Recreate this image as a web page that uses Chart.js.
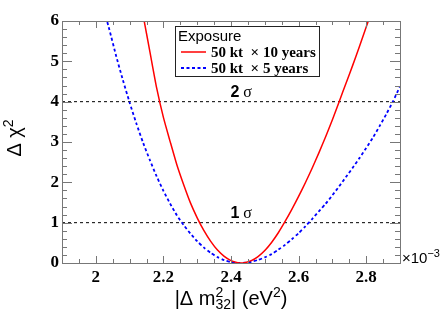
<!DOCTYPE html>
<html>
<head>
<meta charset="UTF-8">
<script src="https://cdn.jsdelivr.net/npm/chart.js"></script>
<style>
  body { margin: 0; background: #fff; }
  canvas { display: block; }
</style>
</head>
<body>
<canvas id="chi2" width="441" height="315"></canvas>
<script>
// values (x in units of 1e-3 eV^2)
const redX = [2.12, 2.14, 2.16, 2.18, 2.20, 2.22, 2.24, 2.26, 2.28, 2.30, 2.32, 2.34, 2.36, 2.38, 2.40, 2.42, 2.43,
  2.44, 2.46, 2.48, 2.50, 2.52, 2.54, 2.56, 2.58, 2.60, 2.62, 2.64, 2.66, 2.68, 2.70, 2.72, 2.74, 2.76, 2.78, 2.80, 2.82];
const redY = [7.0, 6.14, 5.24, 4.34, 3.61, 3.01, 2.43, 1.94, 1.49, 1.12, 0.80, 0.535, 0.32, 0.165, 0.06, 0.007, 0,
  0.006, 0.058, 0.16, 0.31, 0.51, 0.75, 1.03, 1.33, 1.65, 1.99, 2.35, 2.73, 3.13, 3.55, 4.0, 4.45, 4.9, 5.37, 5.85, 6.33];

const blueX = [1.98, 2.00, 2.02, 2.04, 2.06, 2.08, 2.10, 2.12, 2.14, 2.16, 2.18, 2.20, 2.22, 2.24, 2.26, 2.28, 2.30,
  2.32, 2.34, 2.36, 2.38, 2.40, 2.42, 2.425, 2.44, 2.46, 2.48, 2.50, 2.52, 2.54, 2.56, 2.58, 2.60, 2.62, 2.64, 2.66,
  2.68, 2.70, 2.72, 2.74, 2.76, 2.78, 2.80, 2.82, 2.84, 2.86, 2.88, 2.90];
const blueY = [7.83, 7.14, 6.41, 5.79, 5.14, 4.54, 3.98, 3.46, 2.98, 2.55, 2.15, 1.79, 1.47, 1.18, 0.94, 0.73, 0.54,
  0.38, 0.25, 0.146, 0.07, 0.022, 0.001, 0, 0.006, 0.031, 0.076, 0.14, 0.22, 0.33, 0.45, 0.59, 0.74, 0.91, 1.09, 1.28,
  1.47, 1.68, 1.90, 2.13, 2.36, 2.60, 2.85, 3.11, 3.40, 3.70, 4.02, 4.38];

const sigmaLevels = [1, 4];
const sigmaNames = ["1", "2"];
const sigmaLabelX = 2.43;

const xTicks = [2.0, 2.2, 2.4, 2.6, 2.8];
const yTicks = [0, 1, 2, 3, 4, 5, 6];

const legendHeader = "Exposure";
const seriesNames = ["50 kt  \u00d7 10 years", "50 kt  \u00d7 5 years"];

const toPts = (xs, ys) => xs.map((v, i) => ({ x: v, y: ys[i] }));

const datasets = [
  { data: toPts(redX, redY), borderColor: "rgb(255,0,0)", borderWidth: 1.5, tension: 0.2 },
  { data: toPts(blueX, blueY), borderColor: "rgb(0,0,255)", borderWidth: 1.8, borderDash: [3, 2.5], tension: 0.2 }
];
sigmaLevels.forEach(l => {
  datasets.push({ data: [{ x: 1.9, y: l }, { x: 2.9, y: l }], borderColor: "#000", borderWidth: 1, borderDash: [3, 3] });
});

// helper: draws text pieces with super/subscripts
function drawParts(ctx, parts, x, y, align) {
  const w = parts.reduce((s, p) => { ctx.font = p.font; return s + (p.adv === 0 ? 0 : ctx.measureText(p.t).width); }, 0);
  let cx = align === "center" ? x - w / 2 : x;
  parts.forEach(p => {
    ctx.font = p.font;
    ctx.fillText(p.t, cx, y + (p.dy || 0));
    if (p.adv !== 0) cx += ctx.measureText(p.t).width;
  });
}

const decor = {
  id: "decor",
  afterDraw(chart) {
    const { ctx, chartArea: a, scales: { x, y } } = chart;
    ctx.save();
    // frame and ticks, drawn inside like ROOT
    ctx.strokeStyle = "#777";
    ctx.lineWidth = 1;
    ctx.strokeRect(a.left + 0.5, a.top + 0.5, a.right - a.left, a.bottom - a.top);
    ctx.beginPath();
    for (let i = 0; i <= 20; i++) {
      const v = 1.9 + i * 0.05;
      const px = Math.round(x.getPixelForValue(v)) + 0.5;
      const len = (Math.round(v * 100) % 20 === 0) ? 7 : 4;
      ctx.moveTo(px, a.bottom); ctx.lineTo(px, a.bottom - len);
      ctx.moveTo(px, a.top); ctx.lineTo(px, a.top + len);
    }
    for (let i = 0; i <= 30; i++) {
      const v = i * 0.2;
      const py = Math.round(y.getPixelForValue(v)) + 0.5;
      const len = (i % 5 === 0) ? 10 : 5;
      ctx.moveTo(a.left, py); ctx.lineTo(a.left + len, py);
      ctx.moveTo(a.right, py); ctx.lineTo(a.right - len, py);
    }
    ctx.stroke();

    ctx.fillStyle = "#000";
    ctx.textBaseline = "alphabetic";
    // sigma labels
    sigmaLevels.forEach((l, i) => {
      const px = x.getPixelForValue(sigmaLabelX);
      const py = y.getPixelForValue(l) - 5;
      drawParts(ctx, [
        { t: sigmaNames[i], font: "bold 16px 'Liberation Sans'" },
        { t: " \u03c3", font: "16px 'Liberation Serif'" }
      ], px, py, "center");
    });

    // legend box
    ctx.fillStyle = "#fff";
    ctx.fillRect(175, 26, 144, 50);
    ctx.strokeStyle = "#222";
    ctx.strokeRect(175.5, 26.5, 144, 50);
    ctx.fillStyle = "#000";
    ctx.font = "15px 'Liberation Sans'";
    ctx.fillText(legendHeader, 178, 41);
    [0, 1].forEach(i => {
      const ly = i === 0 ? 52 : 68;
      ctx.strokeStyle = datasets[i].borderColor;
      ctx.lineWidth = datasets[i].borderWidth;
      ctx.setLineDash(datasets[i].borderDash || []);
      ctx.beginPath(); ctx.moveTo(181, ly); ctx.lineTo(206, ly); ctx.stroke();
      ctx.setLineDash([]);
      ctx.font = "bold 15px 'Liberation Serif'";
      ctx.fillText(seriesNames[i], 211, ly + 5);
    });

    // x axis title
    const sans = s => s + "px 'Liberation Sans'";
    const xt = [
      { t: "|\u0394 m", font: sans(20) },
      { t: "2", font: sans(14), dy: -8, adv: 0 },
      { t: "32", font: sans(14), dy: 4 },
      { t: "| (eV", font: sans(20) },
      { t: "2", font: sans(14), dy: -8 },
      { t: ")", font: sans(20) }
    ];
    drawParts(ctx, xt, (a.left + a.right) / 2, 305, "center");

    // y axis title
    ctx.save();
    ctx.translate(21, 138);
    ctx.rotate(-Math.PI / 2);
    drawParts(ctx, [
      { t: "\u0394 \u03c7", font: sans(20) },
      { t: "2", font: sans(14), dy: -8 }
    ], 0, 0, "center");
    ctx.restore();

    // exponent
    drawParts(ctx, [
      { t: "\u00d710", font: sans(15) },
      { t: "\u22123", font: sans(11), dy: -6 }
    ], a.right + 2, a.bottom, "left");
    ctx.restore();
  }
};

const tickFont = { family: "'Liberation Serif'", size: 17, weight: "bold" };

new Chart(document.getElementById("chi2"), {
  type: "line",
  data: { datasets },
  options: {
    responsive: false,
    animation: false,
    layout: { padding: { top: 21, right: 41, left: 0, bottom: 0 } },
    elements: { point: { radius: 0 } },
    plugins: { legend: { display: false }, tooltip: { enabled: false } },
    scales: {
      x: {
        type: "linear", min: 1.9, max: 2.9,
        grid: { display: false, drawTicks: false },
        border: { display: false },
        afterBuildTicks: s => { s.ticks = xTicks.map(v => ({ value: v })); },
        afterFit: s => { s.height = 52; },
        ticks: { font: tickFont, color: "#000", padding: 4, maxRotation: 0, autoSkip: false,
          callback: v => String(Math.round(v * 10) / 10) }
      },
      y: {
        min: 0, max: 6,
        grid: { display: false, drawTicks: false },
        border: { display: false },
        afterBuildTicks: s => { s.ticks = yTicks.map(v => ({ value: v })); },
        afterFit: s => { s.width = 62; },
        ticks: { font: tickFont, color: "#000", padding: 3 }
      }
    }
  },
  plugins: [decor]
});
</script>
</body>
</html>
